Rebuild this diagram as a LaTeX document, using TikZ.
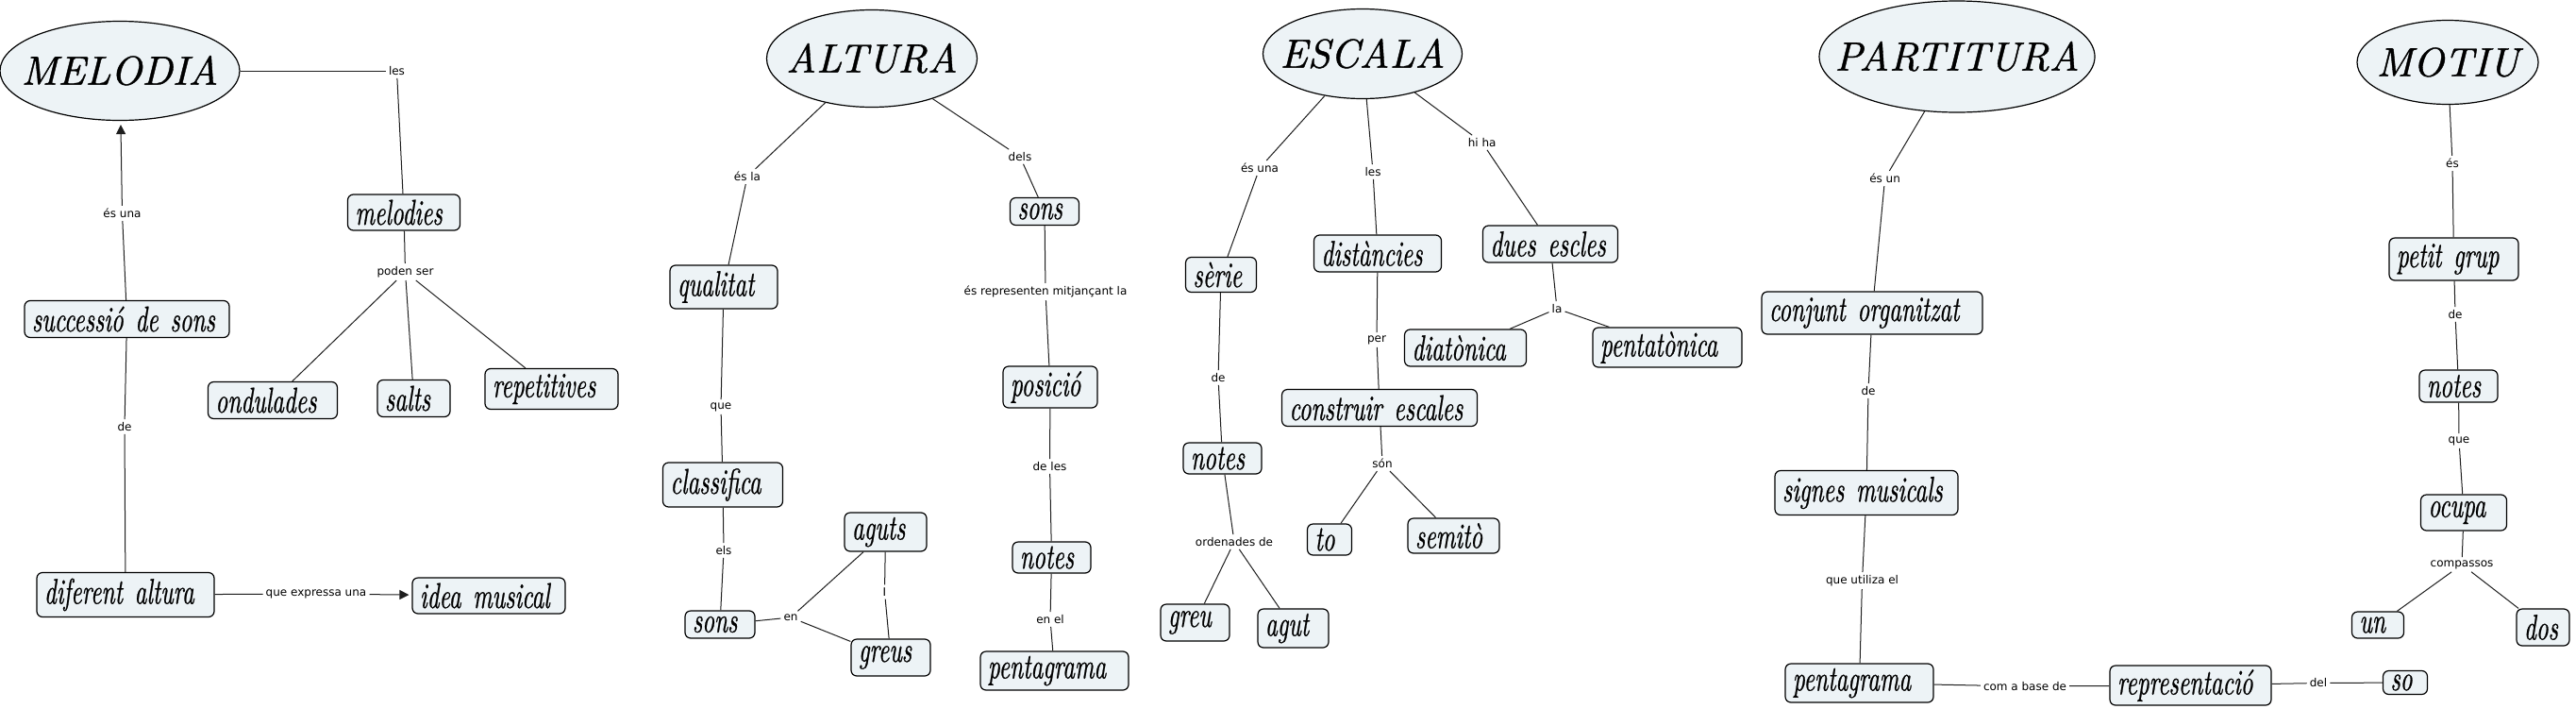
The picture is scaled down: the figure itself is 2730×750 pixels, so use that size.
\documentclass[tikz,border=0pt]{standalone}
\usepackage{fontspec}
\newfontfamily\boxfont{lmroman10-italic.otf}[FakeStretch=0.66,FakeBold=0.6]
\newfontfamily\titlefont{lmroman10-italic.otf}[FakeBold=0.9]
\newfontfamily\labfont{DejaVu Sans}
\usetikzlibrary{arrows.meta,shapes.geometric}
\definecolor{boxfill}{RGB}{237,243,246}
\definecolor{linec}{RGB}{30,30,30}
\newcommand{\ttltext}[1]{\raisebox{-0.34em}[0pt][0pt]{\makebox[0pt]{#1}}}
\DeclareRobustCommand{\boxtextfont}{\boxfont\fontsize{38}{40}\selectfont\spaceskip 8pt plus 2pt minus 2pt\relax}
\begin{document}
\begin{tikzpicture}[x=1pt,y=-1pt,
  box/.style={draw=black, line width=1.2pt, rounded corners=6pt, fill=boxfill,
    inner xsep=8pt, inner ysep=0pt, align=left, font=\boxtextfont},
  ttl/.style={ellipse, draw=black, line width=1.2pt, fill=boxfill, inner sep=0pt,
    font=\titlefont\fontsize{43}{45}\selectfont},
  lab/.style={inner sep=3pt, font=\labfont\fontsize{12}{14}\selectfont},
  con/.style={draw=linec, line width=1pt},
  arr/.style={con, -{Triangle[length=10pt,width=10pt]}, shorten >=4pt}
]
\fill[white] (0,0) rectangle (2730,750);
\useasboundingbox (0,0) rectangle (2730,750);

% ---- titles
\node[ttl, minimum width=254pt, minimum height=105pt] (melodia) at (127,75) {\ttltext{MELODIA}};
\node[ttl, minimum width=223pt, minimum height=103pt] (altura) at (924,62) {\ttltext{ALTURA}};
\node[ttl, minimum width=211pt, minimum height=95pt] (escala) at (1444,57) {\ttltext{ESCALA}};
\node[ttl, minimum width=292pt, minimum height=118pt] (partitura) at (2074,60) {\ttltext{PARTITURA}};
\node[ttl, minimum width=192pt, minimum height=89pt] (motiu) at (2594,66) {\ttltext{MOTIU}};

% ---- MELODIA boxes
\node[box, text width=103pt, minimum height=38pt] (melodies) at (428,225) {melodies};
\node[box, text width=201pt, minimum height=39pt] (successio) at (134.5,338) {successió de sons};
\node[box, text width=121pt, minimum height=39pt] (ondulades) at (289,424) {ondulades};
\node[box, text width=61pt, minimum height=39pt] (salts) at (438.5,422) {salts};
\node[box, text width=125pt, minimum height=43pt] (repetitives) at (584.5,412) {repetitives};
\node[box, text width=172pt, minimum height=47pt] (diferent) at (133,630) {diferent altura};
\node[box, text width=146pt, minimum height=38pt] (idea) at (518,631) {idea musical};

% ---- ALTURA boxes
\node[box, text width=98pt, minimum height=46pt] (qualitat) at (767,304) {qualitat};
\node[box, text width=57pt, minimum height=29pt] (sonsA) at (1107,224) {sons};
\node[box, text width=111pt, minimum height=47pt] (classifica) at (766,513.5) {classifica};
\node[box, text width=84pt, minimum height=44pt] (posicio) at (1113,410) {posició};
\node[box, text width=71pt, minimum height=41pt] (aguts) at (938.5,563.5) {aguts};
\node[box, text width=58pt, minimum height=29pt] (sonsB) at (763,661.5) {sons};
\node[box, text width=68pt, minimum height=39pt] (greus) at (944,696.5) {greus};
\node[box, text width=67pt, minimum height=33pt] (notesA) at (1114.5,590.5) {notes};
\node[box, text width=141pt, minimum height=41pt] (pentaA) at (1117.5,710.5) {pentagrama};

% ---- ESCALA boxes
\node[box, text width=59pt, minimum height=37pt] (serie) at (1294,291) {sèrie};
\node[box, text width=119pt, minimum height=39pt] (distancies) at (1460,268.5) {distàncies};
\node[box, text width=127pt, minimum height=39pt] (dues) at (1643,258.5) {dues escles};
\node[box, text width=113pt, minimum height=39pt] (diatonica) at (1553,368.5) {diatònica};
\node[box, text width=142pt, minimum height=42pt] (pentatonica) at (1767,368) {pentatònica};
\node[box, text width=191pt, minimum height=39pt] (construir) at (1462,432) {construir escales};
\node[box, text width=67pt, minimum height=33pt] (notesB) at (1295.5,485.5) {notes};
\node[box, text width=31pt, minimum height=33pt] (to) at (1409,571.5) {to};
\node[box, text width=81pt, minimum height=37pt] (semito) at (1540.5,567.5) {semitò};
\node[box, text width=57pt, minimum height=39pt] (greu) at (1266.5,659.5) {greu};
\node[box, text width=59pt, minimum height=41pt] (agut) at (1370.5,665.5) {agut};

% ---- PARTITURA boxes
\node[box, text width=218pt, minimum height=45pt] (conjunt) at (1984,331.5) {conjunt organitzat};
\node[box, text width=178pt, minimum height=47pt] (signes) at (1978,522) {signes musicals};
\node[box, text width=141pt, minimum height=41pt] (pentaB) at (1970.5,723.5) {pentagrama};
\node[box, text width=155pt, minimum height=42pt] (repres) at (2321.5,726) {representació};
\node[box, text width=31pt, minimum height=25pt] (so) at (2549,723) {so};

% ---- MOTIU boxes
\node[box, text width=121pt, minimum height=45pt] (petit) at (2600.5,274.5) {petit grup};
\node[box, text width=67pt, minimum height=34pt] (notesC) at (2605.5,409) {notes};
\node[box, text width=75pt, minimum height=38pt] (ocupa) at (2611,543) {ocupa};
\node[box, text width=39pt, minimum height=28pt] (un) at (2520,662) {un};
\node[box, text width=40pt, minimum height=39pt] (dos) at (2695,664.5) {dos};

% ---- link labels
\node[lab] (lesA) at (420.5,75) {les};
\node[lab] (esunaA) at (129.5,226) {és una};
\node[lab] (poden) at (429.5,288) {poden ser};
\node[lab] (deA) at (132,452) {de};
\node[lab] (qexp) at (335,629) {que expressa una};
\node[lab] (esla) at (792,187) {és la};
\node[lab] (dels) at (1081,166) {dels};
\node[lab] (esrep) at (1108,309) {és representen mitjançant la};
\node[lab] (queA) at (764,431) {que};
\node[lab] (els) at (767,583) {els};
\node[lab] (en) at (838,654) {en};
\node[lab] (ilab) at (937.5,627) {I};
\node[lab] (deles) at (1112.5,494) {de les};
\node[lab] (enel) at (1113,656) {en el};
\node[lab] (esunaB) at (1335,178) {és una};
\node[lab] (lesB) at (1455,182) {les};
\node[lab] (hiha) at (1570.7,151) {hi ha};
\node[lab] (la) at (1650,327) {la};
\node[lab] (per) at (1459,360) {per};
\node[lab] (deB) at (1291,400) {de};
\node[lab] (son) at (1465,491) {són};
\node[lab] (orden) at (1308,574) {ordenades de};
\node[lab] (esun) at (1997.6,189) {és un};
\node[lab] (deC) at (1980,414) {de};
\node[lab] (qutil) at (1973.5,615) {que utiliza el};
\node[lab] (combase) at (2146,727) {com a base de};
\node[lab] (del) at (2457,723.5) {del};
\node[lab] (es) at (2599,173) {és};
\node[lab] (deD) at (2602,333) {de};
\node[lab] (queB) at (2606,467) {que};
\node[lab] (compassos) at (2609,598) {compassos};

% ---- connectors: MELODIA
\draw[con] (melodia) -- (lesA);
\draw[con] (lesA) -- (melodies);
\draw[con] (successio) -- (esunaA);
\draw[arr] (esunaA) -- (melodia);
\draw[con] (melodies) -- (poden);
\draw[con] (poden) -- (ondulades);
\draw[con] (poden) -- (salts);
\draw[con] (poden) -- (repetitives);
\draw[con] (successio) -- (deA);
\draw[con] (deA) -- (diferent);
\draw[con] (diferent) -- (qexp);
\draw[arr, shorten >=3pt] (qexp) -- (idea);

% ---- connectors: ALTURA
\draw[con] (altura) -- (esla);
\draw[con] (esla) -- (qualitat);
\draw[con] (altura) -- (dels);
\draw[con] (dels) -- (sonsA);
\draw[con] (qualitat) -- (queA);
\draw[con] (queA) -- (classifica);
\draw[con] (classifica) -- (els);
\draw[con] (els) -- (sonsB);
\draw[con] (sonsB) -- (en);
\draw[con] (en) -- (aguts);
\draw[con] (en) -- (greus);
\draw[con] (aguts) -- (ilab);
\draw[con] (ilab) -- (greus);
\draw[con] (sonsA) -- (esrep);
\draw[con] (esrep) -- (posicio);
\draw[con] (posicio) -- (deles);
\draw[con] (deles) -- (notesA);
\draw[con] (notesA) -- (enel);
\draw[con] (enel) -- (pentaA);

% ---- connectors: ESCALA
\draw[con] (escala) -- (esunaB);
\draw[con] (esunaB) -- (serie);
\draw[con] (escala) -- (lesB);
\draw[con] (lesB) -- (distancies);
\draw[con] (escala) -- (hiha);
\draw[con] (hiha) -- (dues);
\draw[con] (dues) -- (la);
\draw[con] (la) -- (diatonica);
\draw[con] (la) -- (pentatonica);
\draw[con] (distancies) -- (per);
\draw[con] (per) -- (construir);
\draw[con] (serie) -- (deB);
\draw[con] (deB) -- (notesB);
\draw[con] (construir) -- (son);
\draw[con] (son) -- (to);
\draw[con] (son) -- (semito);
\draw[con] (notesB) -- (orden);
\draw[con] (orden) -- (greu);
\draw[con] (orden) -- (agut);

% ---- connectors: PARTITURA
\draw[con] (partitura) -- (esun);
\draw[con] (esun) -- (conjunt);
\draw[con] (conjunt) -- (deC);
\draw[con] (deC) -- (signes);
\draw[con] (signes) -- (qutil);
\draw[con] (qutil) -- (pentaB);
\draw[con] (pentaB) -- (combase);
\draw[con] (combase) -- (repres);
\draw[con] (repres) -- (del);
\draw[con] (del) -- (so);

% ---- connectors: MOTIU
\draw[con] (motiu) -- (es);
\draw[con] (es) -- (petit);
\draw[con] (petit) -- (deD);
\draw[con] (deD) -- (notesC);
\draw[con] (notesC) -- (queB);
\draw[con] (queB) -- (ocupa);
\draw[con] (ocupa) -- (compassos);
\draw[con] (compassos) -- (un);
\draw[con] (compassos) -- (dos);
\end{tikzpicture}
\end{document}
